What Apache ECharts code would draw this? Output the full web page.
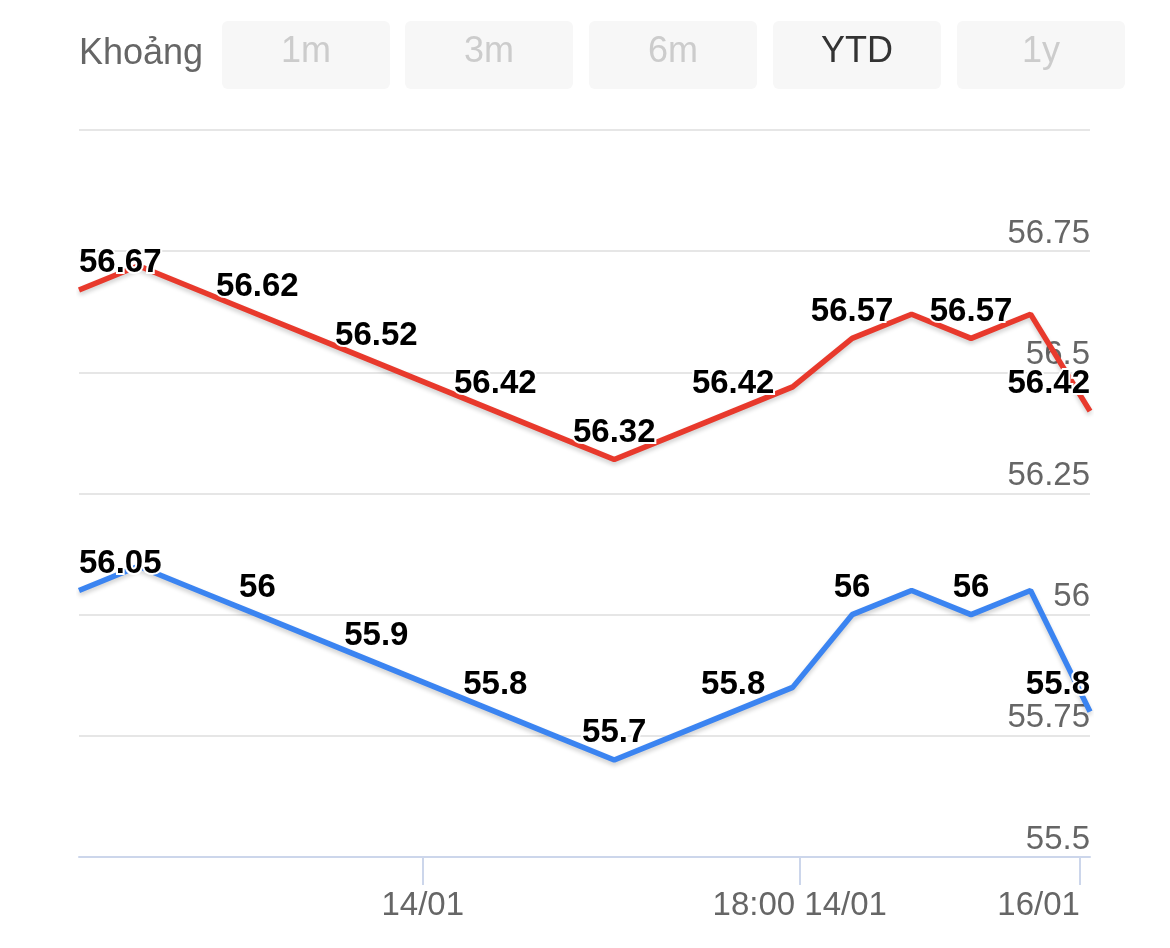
<!DOCTYPE html>
<html>
<head>
<meta charset="utf-8">
<style>
  html, body { margin: 0; padding: 0; background: #fff; }
  #chart { width: 1170px; height: 948px; }
</style>
<script src="https://cdn.jsdelivr.net/npm/echarts@6/dist/echarts.min.js"></script>
</head>
<body>
<div id="chart"></div>
<script>
// ---- data ----
const pointIndex = [0, 1, 2, 3, 4, 5, 6, 7, 8, 9, 10, 11, 12, 13, 14, 15, 16, 17];
const redValues  = [56.67, 56.72, 56.67, 56.62, 56.57, 56.52, 56.47, 56.42, 56.37, 56.32, 56.37, 56.42, 56.47, 56.57, 56.62, 56.57, 56.62, 56.42];
const blueValues = [56.05, 56.10, 56.05, 56.00, 55.95, 55.90, 55.85, 55.80, 55.75, 55.70, 55.75, 55.80, 55.85, 56.00, 56.05, 56.00, 56.05, 55.80];
const labelledPoints = [0, 3, 5, 7, 9, 11, 13, 15, 17];
const xTickPositions = [5.78, 12.12, 16.83];
const xTickLabels = ['14/01', '18:00 14/01', '16/01'];
const rangeLabel = 'Khoảng';
const rangeButtons = ['1m', '3m', '6m', 'YTD', '1y'];
const activeButton = 'YTD';

const chart = echarts.init(document.getElementById('chart'), null, { renderer: 'canvas' });

function buildSeriesData(values) {
  return values.map((v, i) => {
    const item = { value: [pointIndex[i], v] };
    if (labelledPoints.includes(i)) {
      const lbl = { show: true };
      if (i === 0) lbl.align = 'left';
      if (i === values.length - 1) lbl.align = 'right';
      item.label = lbl;
    }
    return item;
  });
}

const labelStyle = {
  show: false,
  position: 'top',
  distance: 10,
  color: '#000',
  fontFamily: 'Liberation Sans, Arial, sans-serif',
  fontWeight: 'bold',
  fontSize: 33,
  textBorderColor: '#fff',
  textBorderWidth: 4,
  formatter: p => String(+p.value[1].toFixed(2))
};

function lineSeries(name, values, color) {
  return {
    name: name,
    type: 'line',
    data: buildSeriesData(values),
    showSymbol: true,
    symbol: 'circle',
    symbolSize: 1,
    itemStyle: { color: 'rgba(0,0,0,0)' },
    lineStyle: {
      color: color,
      width: 5.5,
      shadowColor: 'rgba(0,0,0,0.18)',
      shadowBlur: 4,
      shadowOffsetY: 3
    },
    label: labelStyle,
    emphasis: { disabled: true },
    silent: true,
    z: 3
  };
}

const btnX = [222, 405, 589, 773, 957];
const btnW = 168;
const graphics = [
  {
    type: 'text', left: 79, top: 36,
    style: { text: rangeLabel, fill: '#666', font: '36px "Liberation Sans", Arial, sans-serif' }
  }
];
rangeButtons.forEach((b, i) => {
  graphics.push({
    type: 'rect',
    shape: { x: btnX[i], y: 21, width: btnW, height: 68, r: 6 },
    style: { fill: '#f7f7f7' }
  });
  graphics.push({
    type: 'text',
    x: btnX[i] + btnW / 2, y: 52,
    style: {
      text: b, fill: b === activeButton ? '#333' : '#cccccc',
      font: '36px "Liberation Sans", Arial, sans-serif',
      align: 'center', verticalAlign: 'middle'
    }
  });
});

chart.setOption({
  animation: false,
  backgroundColor: '#fff',
  graphic: graphics,
  grid: { left: 79, right: 80, top: 130, bottom: 91, outerBoundsMode: 'none', containLabel: false },
  xAxis: {
    type: 'value',
    min: 0,
    max: 17,
    splitLine: { show: false },
    axisLine: { show: true, lineStyle: { color: '#ccd6eb', width: 2 } },
    axisTick: {
      show: true, customValues: xTickPositions, length: 28,
      lineStyle: { color: '#ccd6eb', width: 2 }
    },
    axisLabel: {
      customValues: xTickPositions,
      color: '#666',
      fontFamily: '"Liberation Sans", Arial, sans-serif',
      fontSize: 33,
      margin: 32,
      alignMaxLabel: 'right',
      padding: [0, 0, 0, 0],
      formatter: v => {
        let best = 0, d = Infinity;
        xTickPositions.forEach((t, i) => { if (Math.abs(t - v) < d) { d = Math.abs(t - v); best = i; } });
        return xTickLabels[best];
      }
    }
  },
  yAxis: {
    type: 'value',
    position: 'right',
    min: 55.5,
    max: 57,
    interval: 0.25,
    axisLine: { show: false },
    axisTick: { show: false },
    splitLine: { show: true, lineStyle: { color: '#e6e6e6', width: 2 } },
    axisLabel: {
      inside: true,
      margin: 0,
      showMaxLabel: false,
      verticalAlign: 'bottom',
      color: '#666',
      fontFamily: '"Liberation Sans", Arial, sans-serif',
      fontSize: 33,
      padding: [0, 0, 1, 0]
    }
  },
  series: [
    lineSeries('red', redValues, '#e8392c'),
    lineSeries('blue', blueValues, '#3b84f1')
  ]
});
</script>
</body>
</html>
